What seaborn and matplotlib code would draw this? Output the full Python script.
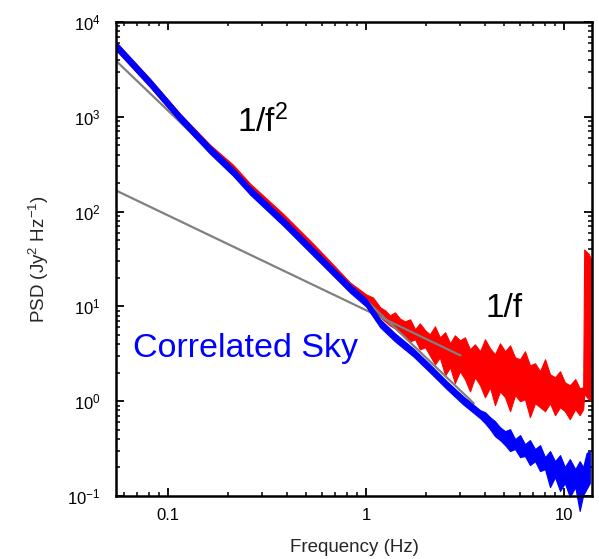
import numpy as np
import pandas as pd
import seaborn as sns
import matplotlib
matplotlib.use("Agg")
import matplotlib.pyplot as plt
from matplotlib.ticker import LogLocator, NullFormatter, FixedLocator, FixedFormatter

# ---------------- data ----------------
red_freq = [0.0546, 0.0811, 0.115, 0.163, 0.213, 0.26, 0.381, 0.54, 0.681, 0.83, 1.0, 1.085,
            1.18, 1.25, 1.32, 1.40, 1.48, 1.57, 1.67, 1.77, 1.87, 1.99,
            2.10, 2.23, 2.36, 2.51, 2.66, 2.81, 2.98, 3.16, 3.35, 3.55,
            3.77, 3.99, 4.23, 4.48, 4.75, 5.04, 5.34, 5.66, 6.0, 6.35,
            6.73, 7.14, 7.57, 8.02, 8.50, 9.01, 9.55, 10.1, 10.7, 11.4,
            12.0, 12.5, 12.65, 13.3, 13.85]
red_hi = [6150, 2510, 1077, 507, 312, 197, 95, 46, 27.7, 17.9, 13.4, 12.4,
          9.76, 9.08, 8.04, 8.65, 7.47, 6.95, 7.30, 5.73, 6.62, 5.59,
          5.07, 6.16, 4.72, 5.33, 4.08, 4.95, 4.39, 4.72, 3.53, 3.98,
          3.36, 4.5, 3.61, 3.12, 4.08, 3.36, 3.88, 2.9, 2.77, 3.36,
          2.39, 2.51, 2.07, 2.77, 1.92, 1.79, 2.07, 1.58, 1.47, 1.71,
          1.37, 1.40, 39.8, 36.0, 30.0]
red_lo = [5070, 2070, 886, 418, 250, 158, 76.5, 37, 23.3, 15.1, 10.8, 9.6,
          7.66, 6.95, 6.31, 5.87, 5.33, 4.95, 4.28, 4.5, 3.53, 3.70,
          3.05, 2.45, 2.9, 1.88, 2.28, 1.55, 2.07, 1.71, 1.27, 1.79,
          1.47, 1.10, 1.40, 0.908, 1.27, 1.10, 0.785, 1.16, 1.0, 1.05,
          0.679, 0.953, 0.865, 0.785, 0.953, 0.712, 0.865, 0.785, 0.647, 0.824,
          0.712, 0.824, 1.19, 1.05, 1.0]

blue_freq = [0.0546, 0.0811, 0.115, 0.163, 0.213, 0.26, 0.381, 0.54, 0.681, 0.83,
             1.0, 1.18, 1.40, 1.73, 2.10, 2.56, 3.09, 3.77,
             3.99, 4.23, 4.48, 4.75, 5.04, 5.34, 5.66, 6.0, 6.35, 6.73,
             7.14, 7.57, 8.02, 8.50, 9.01, 9.55, 10.1, 10.7, 11.4, 12.0,
             12.5, 13.0, 13.5]
blue_hi = [6150, 2510, 1077, 495, 290, 183, 86.5, 41.8, 25.7, 17.1,
           12.1, 7.30, 5.2, 3.61, 2.45, 1.62, 1.13, 0.804,
           0.766, 0.679, 0.616, 0.532, 0.483, 0.507, 0.398, 0.439, 0.352, 0.389,
           0.313, 0.344, 0.257, 0.298, 0.233, 0.27, 0.202, 0.245, 0.192, 0.233,
           0.202, 0.284, 0.298]
blue_lo = [5070, 2070, 886, 408, 239, 151, 71.3, 34.4, 21.2, 14.0,
           10.0, 6.01, 4.28, 2.98, 2.02, 1.34, 0.929, 0.662,
           0.587, 0.507, 0.428, 0.389, 0.344, 0.298, 0.313, 0.257, 0.264, 0.212,
           0.233, 0.183, 0.192, 0.124, 0.158, 0.113, 0.137, 0.0976, 0.124, 0.0695,
           0.1025, 0.1185, 0.137]

fit2_freq = [0.0546, 3.5]     # 1/f^2 guide line
fit2_psd = [3900, 0.95]
fit1_freq = [0.0546, 3.0]     # 1/f guide line
fit1_psd = [167, 3.04]

xtick_vals = [0.1, 1, 10]
xtick_labels = ["0.1", "1", "10"]

# ---------------- style ----------------
sns.set_theme(style="ticks")
plt.rcParams["font.family"] = ["Liberation Sans", "DejaVu Sans"]
plt.rcParams["mathtext.fontset"] = "custom"
plt.rcParams["mathtext.rm"] = "Liberation Sans"
plt.rcParams["mathtext.it"] = "Liberation Sans:italic"
plt.rcParams["mathtext.bf"] = "Liberation Sans:bold"
plt.rcParams["axes.unicode_minus"] = False

fig = plt.figure(figsize=(5.99, 5.59), dpi=100)
ax = fig.add_axes([116 / 599, 1 - 496 / 559, (592 - 116) / 599, (496 - 22) / 559])
ax.set_xscale("log")
ax.set_yscale("log")

red = "#ff0000"
blue = "#0000ff"
gray = "#808080"

ax.fill_between(red_freq, red_lo, red_hi, color=red, lw=0.8, zorder=2)

guides = pd.concat([
    pd.DataFrame({"f": fit2_freq, "p": fit2_psd, "g": "f2"}),
    pd.DataFrame({"f": fit1_freq, "p": fit1_psd, "g": "f1"}),
])
sns.lineplot(data=guides, x="f", y="p", units="g", estimator=None, color=gray,
             lw=1.6, ax=ax, zorder=3, legend=False)

ax.fill_between(blue_freq, blue_lo, blue_hi, color=blue, lw=0.8, zorder=4, clip_on=False)

ax.set_xlim(0.0546, 13.85)
ax.set_ylim(0.1, 1e4)

ax.xaxis.set_major_locator(FixedLocator(xtick_vals))
ax.xaxis.set_major_formatter(FixedFormatter(xtick_labels))
ax.xaxis.set_minor_locator(LogLocator(base=10, subs=np.arange(2, 10)))
ax.xaxis.set_minor_formatter(NullFormatter())
ax.yaxis.set_major_locator(LogLocator(base=10, numticks=10))
ax.yaxis.set_minor_locator(LogLocator(base=10, subs=np.arange(2, 10), numticks=10))
ax.yaxis.set_minor_formatter(NullFormatter())

ax.tick_params(which="both", direction="in", top=True, right=True, colors="black",
               labelsize=12)
ax.tick_params(which="major", length=6, width=1.3)
ax.tick_params(which="minor", length=3, width=1.1)
ax.tick_params(axis="y", pad=11)
ax.tick_params(axis="x", pad=9)
for s in ax.spines.values():
    s.set_linewidth(1.8)
    s.set_color("black")
    s.set_zorder(5)

ax.set_xlabel("Frequency (Hz)", fontsize=13.5, labelpad=11)
ax.set_ylabel(r"PSD (Jy$^2$ Hz$^{-1}$)", fontsize=13.5, labelpad=12)

ax.text(0.223, 695, r"1/f$^{2}$", fontsize=24, color="black", ha="left", va="baseline")
ax.text(5.0, 7.66, "1/f", fontsize=24, color="black", ha="center", va="baseline")
ax.text(0.0666, 2.9, "Correlated Sky", fontsize=24.5, color=blue, ha="left", va="baseline")

fig.savefig("out.png", dpi=100)
